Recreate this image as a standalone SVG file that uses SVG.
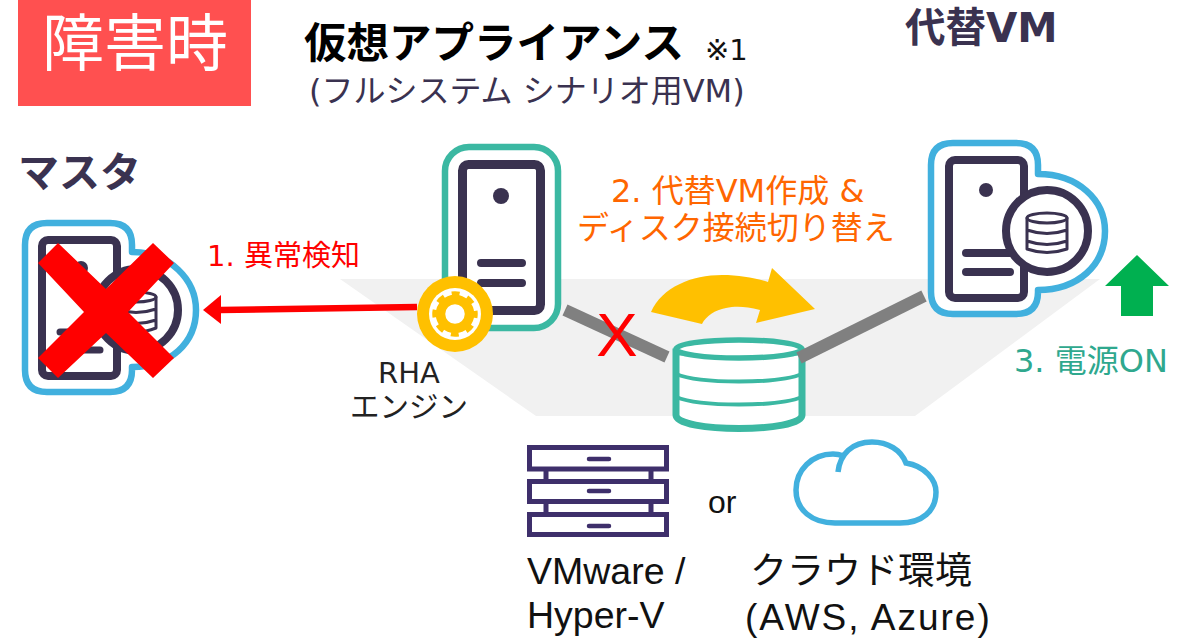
<svg xmlns="http://www.w3.org/2000/svg" width="1184" height="639" viewBox="0 0 1184 639">
<style>
text{font-family:"DejaVu Sans","Noto Sans CJK JP",sans-serif}
.a{font-family:"Liberation Sans","Noto Sans CJK JP",sans-serif}
.d{fill:none;stroke:#3a3250;stroke-linecap:round;stroke-linejoin:round}
.w{fill:#fff;stroke:#3a3250;stroke-linejoin:round}
.b{fill:#fff;stroke:#41b0de;stroke-width:6.5;stroke-linejoin:round}
.t{fill:#fff;stroke:#3bb8a2}
</style>
<rect width="1184" height="639" fill="#fff"/>
<polygon id="plane" points="340,279 1100,279 915,416 536,416" fill="#f1f1f1"/>
<g id="title"><rect x="18" y="0" width="233" height="106" fill="#ff5050"/>
<text x="135" y="66" text-anchor="middle" font-size="62" fill="#fff">障害時</text></g>
<g id="appliance-label">
<text x="304" y="58" font-size="42.5" font-weight="700" fill="#000">仮想アプライアンス</text>
<text x="705" y="60" font-size="29" fill="#111">※1</text>
<text x="309" y="102" font-size="32" fill="#3a3250">(フルシステム シナリオ用VM)</text></g>
<text id="alt-label" x="905" y="42" font-size="40.5" font-weight="700" fill="#3a3250">代替VM</text>
<text id="master-label" x="18" y="187" font-size="41" font-weight="700" fill="#3a3250">マスタ</text>
<g id="storage">
<path class="t" stroke-width="7" d="M676,352V415C676,433 802,433 802,415V352Z"/>
<path fill="none" stroke="#3bb8a2" stroke-width="4" d="M676,374C700,384 778,384 802,374M676,397C700,407 778,407 802,397"/>
<ellipse class="t" cx="739" cy="349" rx="63" ry="9" stroke-width="5.5"/>
</g>
<g id="connectors">
<line x1="565" y1="310" x2="667" y2="357" stroke="#808080" stroke-width="12"/>
<line x1="799" y1="358" x2="924" y2="296" stroke="#808080" stroke-width="12"/>
<line x1="417" y1="307" x2="220" y2="310" stroke="#f00" stroke-width="6.5"/>
<polygon points="203,310 221,295 221,324" fill="#f00"/>
</g>
<g id="master">
<path class="b" d="M47,223H110Q132,223 132,245V252C170,252 196,280 196,310C196,343 170,367 132,367V370Q132,392 110,392H47Q25,392 25,370V245Q25,223 47,223Z"/>
<rect class="w" x="42" y="240" width="75" height="136" rx="6" stroke-width="8"/>
<circle cx="81" cy="268" r="7" fill="#3a3250"/>
<path class="d" stroke-width="7" d="M60,332H100M60,350H100"/>
<circle class="w" cx="137" cy="310" r="41" stroke-width="8"/>
<ellipse class="w" cx="136" cy="297" rx="20" ry="5" stroke-width="3"/>
<path class="d" stroke-width="3" d="M116,297V328Q136,336 156,328V297M116,309Q136,316 156,309M116,320Q136,327 156,320"/>
<polygon fill="#f00" points="58,243 106,289 153,243 174,263 128,312 174,358 153,378 106,333 58,378 38,358 84,312 38,263"/>
</g>
<g id="appliance">
<rect x="445" y="147" width="113" height="181" rx="24" fill="#fff" stroke="#3bb8a2" stroke-width="6.5"/>
<rect class="w" x="462.500" y="164.500" width="78" height="146" rx="6" stroke-width="9"/>
<circle cx="501" cy="196" r="8" fill="#3a3250"/>
<path class="d" stroke-width="8" d="M481,263H522M481,283H522"/>
</g>
<g id="rha-engine">
<circle cx="455" cy="314" r="38" fill="#ffc000"/>
<circle cx="455" cy="314" r="26" fill="#fff"/>
<circle cx="455" cy="314" r="14.500" fill="none" stroke="#ffc000" stroke-width="9.500"/>
<circle cx="455" cy="314" r="20.500" fill="none" stroke="#ffc000" stroke-width="4.500" stroke-dasharray="8 8.100" stroke-dashoffset="4"/>
<text x="409" y="383" text-anchor="middle" font-size="29" fill="#222">RHA</text>
<text x="409" y="417" text-anchor="middle" font-size="29.500" fill="#222">エンジン</text>
</g>
<path id="curved-arrow" fill="#ffc000" d="M651,312C662,287 692,275 722,275C740,275 755,278 768,282L772,268L815,309L756,323L760,310C745,306 735,306 726,308C715,310 706,316 702,324Z"/>
<text id="x-mark" class="a" x="617" y="356" text-anchor="middle" font-size="62" fill="#f00">X</text>
<g id="alt-vm">
<path class="b" d="M953,143H1016Q1038,143 1038,165V174C1078,174 1105,200 1105,231C1105,265 1078,290 1038,290V292Q1038,314 1016,314H953Q931,314 931,292V165Q931,143 953,143Z"/>
<rect class="w" x="949" y="160" width="75" height="138" rx="6" stroke-width="8"/>
<circle cx="986" cy="190" r="7" fill="#3a3250"/>
<path class="d" stroke-width="8" d="M966,253H1010M966,272H1010"/>
<circle class="w" cx="1047" cy="231" r="41" stroke-width="8"/>
<ellipse class="w" cx="1047" cy="218" rx="20" ry="5" stroke-width="3"/>
<path class="d" stroke-width="3" d="M1027,218V249Q1047,256 1067,249V218M1027,230Q1047,237 1067,230M1027,241Q1047,248 1067,241"/>
</g>
<polygon id="up-arrow" fill="#00b050" points="1137,255 1169,286 1153,286 1153,316 1121,316 1121,286 1105,286"/>
<text id="step1" x="207" y="266" font-size="29" fill="#f00">1. 異常検知</text>
<g id="step2" font-size="32" fill="#ff6600"><text x="611" y="202">2. 代替VM作成 &amp;</text><text x="577" y="239">ディスク接続切り替え</text></g>
<text id="step3" x="1014" y="372" font-size="32" fill="#2fa88e">3. 電源ON</text>
<g id="vmware" fill="#fff" stroke="#3e2f6b" stroke-width="5">
<path fill="none" d="M546,470V481M651,470V481M546,503V514M651,503V514"/>
<rect x="529.500" y="447.500" width="137" height="21.500"/><rect x="529.500" y="481.500" width="137" height="20"/><rect x="529.500" y="514.500" width="137" height="20"/>
<path stroke-linecap="round" d="M589,459H609M589,491H609M589,526H609" stroke-width="4.500"/>
</g>
<path id="cloud" fill="none" stroke="#41b0de" stroke-width="5.500" d="M838,472C840,454 852,442 872,442C888,442 901,450 906,463C925,466 936,480 936,492C936,511 922,523 900,523H835C812,523 796,510 796,490C796,470 812,454 833,454C837,454 841,455 844,456"/>
<g id="labels">
<text x="708" y="513" font-size="32" class="a" fill="#111">or</text>
<text x="527" y="584" font-size="37.500" class="a" fill="#111">VMware /</text>
<text x="527" y="628" font-size="37.500" class="a" fill="#111">Hyper-V</text>
<text x="750" y="584" font-size="37" class="a" fill="#111">クラウド環境</text>
<text x="745" y="630" font-size="37" letter-spacing="2" class="a" fill="#111">(AWS, Azure)</text>
</g>
</svg>
